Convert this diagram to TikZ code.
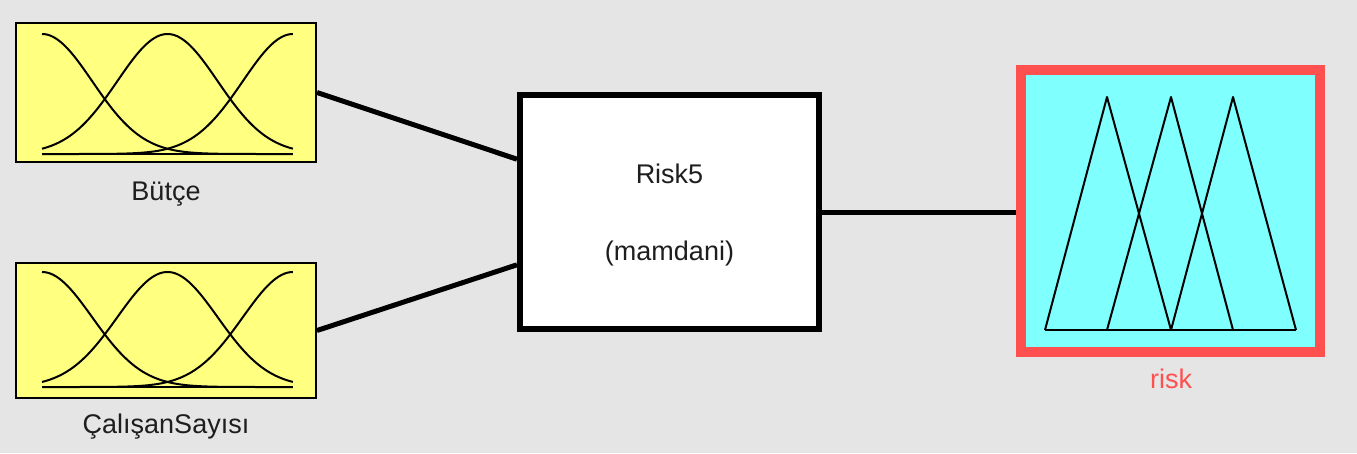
\documentclass[tikz,border=0pt]{standalone}
\usepackage{fontspec}
\setmainfont{Liberation Sans}
\usetikzlibrary{calc}
\definecolor{bgc}{RGB}{229,229,229}
\definecolor{inyel}{RGB}{255,255,128}
\definecolor{outcy}{RGB}{128,255,255}
\definecolor{outred}{RGB}{255,80,80}
\definecolor{txtc}{RGB}{30,30,30}
\tikzset{
  inbox/.style={draw=black, fill=inyel, line width=2pt, minimum width=300pt, inner sep=0pt},
  fisbox/.style={draw=black, fill=white, line width=6pt, minimum width=299pt, minimum height=234pt, inner sep=0pt},
  outbox/.style={draw=outred, fill=outcy, line width=10pt, minimum width=299pt, minimum height=282pt, inner sep=0pt},
  lbl/.style={font=\fontsize{27}{32}\selectfont, text=txtc, anchor=base, inner sep=0pt},
  conn/.style={draw=black, line width=5pt},
  mf/.style={draw=black, line width=2pt, line join=round}
}
\begin{document}
\begin{tikzpicture}[x=1pt,y=-1pt]
\fill[bgc] (0,0) rectangle (1357,453);
\useasboundingbox (0,0) rectangle (1357,453);
% input boxes
\node[inbox, minimum height=139pt] (in1) at (166,92.5) {};
\node[inbox, minimum height=135pt] (in2) at (166,330.5) {};
% gaussian membership functions, input 1
\foreach \c in {0,0.5,1}{
  \draw[mf] plot[domain=0:1, samples=90, smooth] ({42+251*\x},{154-120*exp(-((\x-\c)/0.2)^2/2)});
}
\draw[mf] (42,154) -- (293,154);
% input 2
\foreach \c in {0,0.5,1}{
  \draw[mf] plot[domain=0:1, samples=90, smooth] ({42+251*\x},{387-115*exp(-((\x-\c)/0.2)^2/2)});
}
\draw[mf] (42,387) -- (293,387);
\node[lbl] (l1) at (166,200) {Bütçe};
\node[lbl] (l2) at (166,433) {ÇalışanSayısı};
% FIS box
\node[fisbox] (fis) at (669.5,212) {};
\node[lbl] (t1) at (669.5,183) {Risk5};
\node[lbl] (t2) at (669.5,260) {(mamdani)};
% output box
\node[outbox] (out) at (1170.5,211) {};
\draw[mf] (1045,330) -- (1296,330);
\draw[mf] (1045,330) -- (1107,97) -- (1171,330);
\draw[mf] (1107,330) -- (1171,97) -- (1233,330);
\draw[mf] (1171,330) -- (1233,97) -- (1296,330);
\node[lbl, text=outred] (l3) at (1171,388) {risk};
% connectors
\draw[conn] (in1.east) -- ($(fis.north west)!0.28!(fis.south west)$);
\draw[conn] (in2.east) -- ($(fis.north west)!0.72!(fis.south west)$);
\draw[conn] (fis.east) -- (fis.east -| out.west);
\end{tikzpicture}
\end{document}
